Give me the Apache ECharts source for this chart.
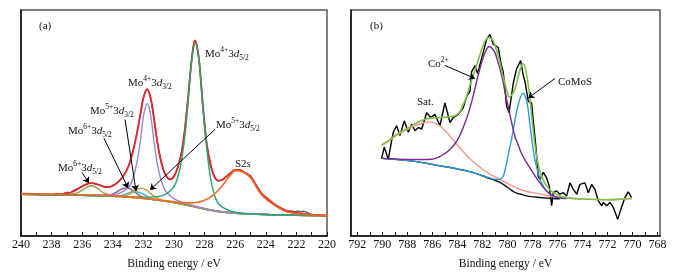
<!DOCTYPE html>
<html>
<head>
<meta charset="utf-8">
<script src="https://cdn.jsdelivr.net/npm/echarts@6/dist/echarts.min.js"></script>
<style>
  html, body { margin: 0; padding: 0; background: #fff; }
  #chart { width: 675px; height: 275px; }
</style>
</head>
<body>
<div id="chart"></div>
<script>
// ---- panel (a): Mo 3d, [binding energy, intensity] ----
var ticksA  = [220,221,222,223,224,225,226,227,228,229,230,231,232,233,234,235,236,237,238,239,240];
var labelsA = [220,222,224,226,228,230,232,234,236,238,240];

var rawA = [[240,42.9],[239.7,43.2],[239.4,42.4],[239.1,43],[238.8,41.7],[238.5,42.3],[238.2,41.5],[237.9,42.6],[237.6,43.4],[237.3,42.5],[237,44.6],[236.8,44.2],[236.6,46],[236.2,49],[235.8,52.5],[235.4,54],[235,52.8],[234.6,50.5],[234.3,50],[234,51.5],[233.7,54.5],[233.4,59.5],[233.1,67],[232.85,77],[232.6,92],[232.4,107],[232.2,124],[232,141],[231.75,150],[231.5,139],[231.3,119],[231.1,97],[230.9,80],[230.7,68],[230.5,61],[230.3,58],[230.1,59],[229.9,64],[229.7,73],[229.5,86],[229.3,108],[229.1,138],[228.9,172],[228.75,192],[228.63,200],[228.5,194],[228.35,178],[228.1,131],[227.85,93],[227.6,71],[227.35,60.5],[227.1,56.5],[226.85,57.5],[226.6,60.5],[226.3,64.5],[226,67.5],[225.7,67.5],[225.4,65],[225,61],[224.6,51],[224.3,44],[224,39.5],[223.7,35.5],[223.3,31],[223,28.3],[222.8,27],[222.5,25.3],[222.3,25.7],[222.1,24.7],[221.9,25.4],[221.7,24.9],[221.5,25.2],[221.3,24],[221.1,22.4],[220.8,21.6],[220.4,21.2],[220,21]];

var envelopeA = [[240,43.2],[239,42.8],[238,42.6],[237.5,42.8],[237,43.5],[236.6,45.5],[236.2,49],[235.8,52.5],[235.4,54],[235,52.8],[234.6,50.5],[234.3,50],[234,51.5],[233.7,54.5],[233.4,59.5],[233.1,67],[232.85,77],[232.6,92],[232.4,107],[232.2,124],[232,141],[231.75,150],[231.5,139],[231.3,119],[231.1,97],[230.9,80],[230.7,68],[230.5,61],[230.3,58],[230.1,59],[229.9,64],[229.7,73],[229.5,86],[229.3,108],[229.1,138],[228.9,172],[228.75,192],[228.63,200],[228.5,194],[228.35,178],[228.1,131],[227.85,93],[227.6,73],[227.35,60.5],[227.1,56.5],[226.85,57.5],[226.6,60.5],[226.3,64.5],[226,67.5],[225.7,67.5],[225.4,65],[225,61],[224.6,51],[224.3,44],[224,39.5],[223.7,35.5],[223.3,31],[223,28.5],[222.6,25.5],[222,23.5],[221,21.8],[220,20.9]];

var backgroundA = [[240,42.6],[238,42.1],[236,41.6],[234,40.5],[233,39.6],[232,38.4],[231,36.6],[230,34.3],[229.5,32.6],[229,31],[228.5,29.3],[228,27.6],[227.5,26],[227,24.8],[226.5,24],[226,23.3],[225,22.5],[224,21.9],[222,21.2],[220,20.7]];

var mo4_52 = [[240,42.6],[236,41.6],[234,40.7],[233,40],[232.5,39.8],[231.6,39.7],[231.1,40.2],[230.6,42.2],[230.1,48.6],[229.85,55.5],[229.6,69.7],[229.35,94],[229.1,132.7],[228.85,178.7],[228.6,197.9],[228.35,176.8],[228.1,128.8],[227.85,88],[227.6,58],[227.35,42],[227.1,33],[226.6,27.5],[226.1,24.5],[225.6,23.3],[225,22.8],[224,22],[222,21.3],[220,20.8]];

var mo4_32 = [[240,42.6],[237,42.2],[235.5,42],[234.45,42.1],[234,42.5],[233.55,43.8],[233.1,47.9],[232.875,52],[232.65,60.6],[232.425,74.9],[232.2,97],[231.975,124],[231.75,135.3],[231.525,123.1],[231.3,95.3],[231.075,72.5],[230.85,57.4],[230.625,48.2],[230.4,43.3],[229.95,37.7],[229.5,34.6],[229.05,32.3],[228.5,30.3],[227.5,26.4],[226,23.5],[224,21.9],[222,21.3],[220,20.8]];

var s2s = [[240,43],[238,42.6],[236,42.2],[234,41],[233,40],[232,38.7],[231,37],[230,35],[229.5,34.2],[229,33.9],[228.5,34.3],[228,36.5],[227.5,41],[227,48.5],[226.5,58.5],[226.25,63.5],[226,66.8],[225.75,66.6],[225.5,65.5],[225.2,62.5],[225,59.5],[224.8,55],[224.6,49.5],[224.3,42.5],[224,38],[223.7,34.3],[223.3,30],[223,27.5],[222.6,24.6],[222,23],[221,21.6],[220,20.8]];

var mo6_52 = [[240,42.6],[238,42.1],[237,42],[236.4,43.8],[236.15,45.4],[235.9,47.9],[235.65,50.3],[235.4,51.3],[235.15,50.1],[234.9,47.5],[234.65,44.7],[234.4,42.9],[233.9,41.1],[233,39.6],[232,38.4],[231,36.6],[230,34.3],[229,31],[228,27.6],[227,24.8],[226,23.3],[224,21.9],[222,21.2],[220,20.7]];

var mo6_32 = [[240,42.6],[236,41.6],[234.6,41.1],[234.35,41.5],[234.1,42.4],[233.85,44.1],[233.6,46.4],[233.35,48.4],[233.1,49.1],[232.85,47.9],[232.6,45.3],[232.35,42.3],[232.1,40],[231.85,38.6],[231.6,37.7],[231,36.6],[230,34.3],[229,31],[228,27.6],[227,24.8],[226,23.3],[224,21.9],[222,21.2],[220,20.7]];

var mo5_32 = [[240,42.6],[236,41.6],[234,40.5],[233.75,40.5],[233.5,41.2],[233.25,42.3],[233,43.9],[232.75,45.1],[232.5,45.3],[232.25,44.4],[232,42.7],[231.75,40.3],[231.5,38.5],[231.25,37.4],[231,36.6],[230,34.3],[229,31],[228,27.6],[227,24.8],[226,23.3],[224,21.9],[222,21.2],[220,20.7]];

var mo5_52 = [[240,42.6],[236,41.6],[234,40.5],[233.6,40.4],[233.35,40.7],[233.1,41.6],[232.85,43.4],[232.6,45.9],[232.35,48.1],[232.1,48.7],[231.85,47.4],[231.6,44.4],[231.35,41.2],[231.1,38.8],[230.85,36.9],[230.6,35.6],[230,34.3],[229,31],[228,27.6],[227,24.8],[226,23.3],[224,21.9],[222,21.2],[220,20.7]];

// ---- panel (b): Co 2p ----
var ticksB  = [768,769,770,771,772,773,774,775,776,777,778,779,780,781,782,783,784,785,786,787,788,789,790,791,792];
var labelsB = [768,770,772,774,776,778,780,782,784,786,788,790,792];

var rawB = [[790.05,79.3],[789.84,91],[789.52,78.3],[789.25,97.7],[789.12,106],[788.85,112.7],[788.59,102.7],[788.24,117.7],[787.92,106],[787.65,114.3],[787.39,107.7],[787.12,111],[786.85,109.3],[786.45,126],[786.11,121],[785.79,124.3],[785.39,112.7],[784.99,136],[784.59,116],[784.33,121],[783.93,124.3],[783.53,131],[783.25,142.7],[782.99,147.7],[782.86,167.7],[782.59,174.3],[782.38,166],[782.11,179.3],[781.93,187.7],[781.66,201],[781.39,206],[781.13,196],[780.73,192.7],[780.51,176],[780.33,167.7],[780.06,132.7],[779.87,126],[779.53,156],[779.26,171],[778.94,179.3],[778.73,164.3],[778.59,157.7],[778.33,137.7],[778.06,136],[777.93,117.7],[777.72,91],[777.53,61],[777.4,57.7],[777.13,65],[776.86,59.3],[776.65,51],[776.46,31],[776.33,44.3],[776.06,46],[775.8,42.7],[775.53,44.3],[775.26,41],[775,54.3],[774.73,47.7],[774.46,42.7],[774.2,52.7],[773.8,54.3],[773.53,44.3],[773.26,52.7],[773,47.7],[772.73,36],[772.46,31],[772.34,34.3],[772.06,31],[771.8,34.3],[771.54,29.3],[771.18,17],[770.92,27.7],[770.6,39.3],[770.34,45],[770.07,39.3]];

var fitB = [[790.05,93],[789.5,97.5],[788.99,102.5],[788.5,106.5],[787.92,110.5],[787.4,114.5],[786.85,118],[786.2,120.5],[785.5,121],[784.85,121.5],[784.2,123],[783.8,127],[783.53,134.3],[783.25,143],[782.99,154.3],[782.72,164.5],[782.46,174.3],[782.2,185],[781.93,195],[781.73,200.5],[781.53,202.7],[781.33,202],[781.13,199.3],[780.87,190],[780.6,177.7],[780.33,162],[780.06,149.3],[779.85,142],[779.6,145],[779.4,150],[779.13,163],[778.86,174.5],[778.75,176],[778.6,173],[778.4,160],[778.2,141],[778.05,122],[777.93,107.7],[777.8,93],[777.66,81],[777.46,69],[777.26,61],[776.86,51],[776.33,44.3],[775.8,41],[775.26,39.3],[774.5,38.2],[773.96,37.8],[772.06,37.1],[771,37.5],[770.07,38.3]];

var co2 = [[790.05,79.3],[789,78.8],[787.92,78.3],[787,78.2],[786.05,78.5],[785.5,80.5],[784.99,84.3],[784.6,88.5],[784.19,94.3],[783.85,101.5],[783.53,111],[783.25,120.5],[782.99,131],[782.72,144],[782.46,157.7],[782.2,171],[781.93,182.7],[781.7,190],[781.45,193.7],[781.2,191.5],[781,187.7],[780.73,177],[780.46,164.3],[780.2,148],[779.93,132],[779.66,116],[779.4,102],[779.13,93],[778.86,84],[778.46,75],[777.93,64.3],[777.4,54.3],[776.86,46],[776.33,41],[775.8,39],[775.3,38.2]];

var comos = [[790.05,79.3],[789,78.3],[787.92,77],[786.8,75],[785.79,72.7],[784.8,70.5],[783.93,68.3],[783.2,66.3],[782.59,64.3],[782,61.8],[781.53,59.8],[781.1,58.3],[780.73,57.6],[780.5,58.5],[780.3,62],[780.06,75],[779.8,91],[779.53,108],[779.33,123],[779.13,134.3],[778.93,142.5],[778.73,146],[778.55,142],[778.38,133],[778.2,114.3],[778.05,99],[777.93,87.7],[777.73,74],[777.53,64.3],[777.33,56.5],[777.13,51],[776.86,46],[776.6,42.7],[776.2,40.3],[775.8,39.3],[775.3,38.5]];

var sat = [[790.05,92.7],[789.5,97],[788.99,101.7],[788.5,105.5],[787.92,109.3],[787.4,112.5],[786.85,115],[786.19,116.7],[785.52,113.7],[784.85,106],[784.19,96],[783.39,84.3],[782.59,74.3],[781.53,64.3],[780.6,58],[779.4,50],[778.59,46],[777.4,43],[776.5,40.5],[775.8,39.3],[774.9,38.3],[773.93,37.7],[772.06,37],[771,37.5],[770.07,38.3]];

var backgroundB = [[790.05,79.3],[789,78.3],[787.92,77],[786.8,75],[785.79,72.7],[784.8,70.5],[783.93,68.3],[783.2,66.3],[782.59,64.3],[782,61.6],[781.53,59.3],[781.1,57.5],[780.73,55.5],[780.4,53.3],[780.06,50.5],[779.8,48],[779.53,45.5],[779.2,43.5],[778.86,42.5],[778.46,41],[777.9,40],[777.4,39.3],[776.8,38.7],[776.33,38.3],[775.8,38]];

var serif = 'Liberation Serif, Times New Roman, serif';

function xAxisOpt(idx, min, max, ticks, labels){
  return {
    type: 'value', gridIndex: idx, inverse: true, min: min, max: max,
    name: 'Binding energy / eV', nameLocation: 'middle', nameGap: 22,
    nameTextStyle: { color: '#111', fontSize: 11.5, fontFamily: serif },
    axisLine: { show: true, lineStyle: { color: '#111', width: 1.5 } },
    axisTick: { show: true, inside: true, length: 4, customValues: ticks, lineStyle: { color: '#111' } },
    axisLabel: { customValues: labels, margin: 3, color: '#111', fontSize: 12, fontFamily: serif },
    splitLine: { show: false }
  };
}
function yAxisOpt(idx){
  return {
    type: 'value', gridIndex: idx, min: 0, max: 231,
    axisLine: { show: true, lineStyle: { color: '#111', width: 1.5 } },
    axisTick: { show: false }, axisLabel: { show: false }, splitLine: { show: false }
  };
}
function curve(name, data, color, axis, width, smooth){
  return {
    name: name, type: 'line', data: data, xAxisIndex: axis, yAxisIndex: axis,
    showSymbol: false, smooth: smooth === undefined ? 0.4 : smooth,
    lineStyle: { color: color, width: width || 1.4 }, silent: true
  };
}
function arrows(axis, list){
  return {
    type: 'line', xAxisIndex: axis, yAxisIndex: axis, data: [], silent: true,
    markLine: {
      silent: true, symbol: ['none', 'arrow'], symbolSize: 6,
      label: { show: false },
      lineStyle: { color: '#000', width: 1, type: 'solid' },
      data: list.map(function(a){ return [{ coord: a[0] }, { coord: a[1] }]; })
    }
  };
}

var rich = {
  m:   { fontSize: 11, fontFamily: serif, lineHeight: 16, fill: '#111', verticalAlign: 'middle' },
  i:   { fontSize: 11, fontFamily: serif, fontStyle: 'italic', lineHeight: 16, fill: '#111', verticalAlign: 'middle' },
  p:   { fontSize: 7.5, fontFamily: serif, lineHeight: 9, fill: '#111', verticalAlign: 'top' },
  b:   { fontSize: 7.5, fontFamily: serif, lineHeight: 9, fill: '#111', verticalAlign: 'bottom' }
};
function txt(x, y, s){
  return { type: 'text', x: x, y: y, silent: true,
    style: { text: s, rich: rich, align: 'left', verticalAlign: 'middle', font: '11px ' + serif, fill: '#111' } };
}

var option = {
  animation: false,
  grid: [
    { left: 21, top: 10, width: 306, height: 231, show: true, borderColor: '#555', borderWidth: 1.5 },
    { left: 351, top: 10, width: 309, height: 231, show: true, borderColor: '#555', borderWidth: 1.5 }
  ],
  xAxis: [ xAxisOpt(0, 220, 240, ticksA, labelsA), xAxisOpt(1, 767.8, 792.5, ticksB, labelsB) ],
  yAxis: [ yAxisOpt(0), yAxisOpt(1) ],
  series: [
    curve('raw', rawA, '#555', 0, 1.4, 0.3),
    curve('background', backgroundA, '#8c8c3c', 0),
    curve('Mo6+ 3d3/2', mo6_32, '#8f5a70', 0),
    curve('Mo5+ 3d3/2', mo5_32, '#27b7cf', 0),
    curve('Mo5+ 3d5/2', mo5_52, '#cf9a2e', 0),
    curve('Mo6+ 3d5/2', mo6_52, '#a39447', 0),
    curve('Mo4+ 3d3/2', mo4_32, '#9a82d6', 0),
    curve('envelope', envelopeA, '#e8262d', 0, 1.8),
    curve('Mo4+ 3d5/2', mo4_52, '#22a86a', 0),
    curve('S2s', s2s, '#f26a21', 0, 1.6),
    arrows(0, [
      [[233.2, 119], [232.48, 46]],
      [[234.58, 100], [233.0, 49]],
      [[227.32, 109], [231.57, 47]],
      [[236.01, 65], [235.56, 54]]
    ]),
    curve('raw', rawB, '#000', 1, 1.4, false),
    curve('background', backgroundB, '#111', 1),
    curve('Sat.', sat, '#f4948c', 1),
    curve('CoMoS', comos, '#2b9be0', 1),
    curve('Co2+', co2, '#7b2a8c', 1),
    curve('fit', fitB, '#7dc242', 1, 1.6),
    arrows(1, [
      [[784.99, 174.3], [782.59, 161]],
      [[776.2, 161], [778.33, 141]]
    ])
  ],
  graphic: [
    txt(39, 26, '{m|(a)}'),
    txt(205, 54, '{m|Mo}{p|4+}{m|3}{i|d}{b|5/2}'),
    txt(128, 83, '{m|Mo}{p|4+}{m|3}{i|d}{b|3/2}'),
    txt(90, 111, '{m|Mo}{p|5+}{m|3}{i|d}{b|3/2}'),
    txt(68, 131, '{m|Mo}{p|6+}{m|3}{i|d}{b|5/2}'),
    txt(216, 125, '{m|Mo}{p|5+}{m|3}{i|d}{b|5/2}'),
    txt(235, 164, '{m|S2}{i|s}'),
    txt(58, 168, '{m|Mo}{p|6+}{m|3}{i|d}{b|5/2}'),
    txt(370, 26, '{m|(b)}'),
    txt(428, 64, '{m|Co}{p|2+}'),
    txt(558, 82, '{m|CoMoS}'),
    txt(417, 102, '{m|Sat.}')
  ]
};

var chart = echarts.init(document.getElementById('chart'));
chart.setOption(option);
</script>
</body>
</html>
